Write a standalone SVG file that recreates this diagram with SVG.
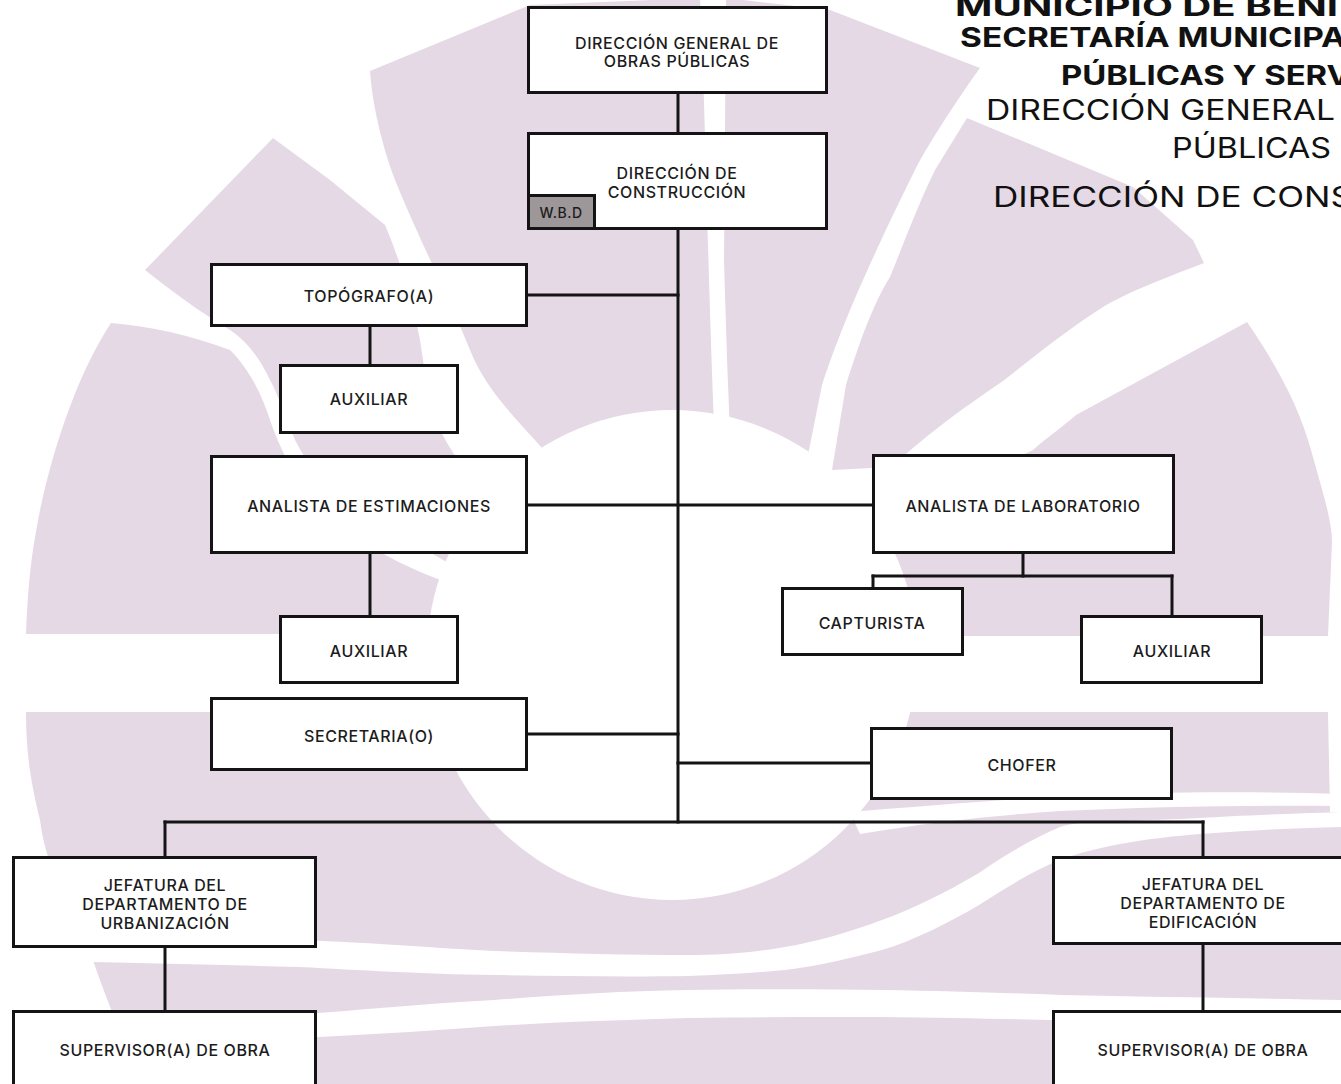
<svg xmlns="http://www.w3.org/2000/svg" width="1341" height="1084" viewBox="0 0 1341 1084">
<style>
.bg{fill:#e6d9e6;stroke:none}
.wh{fill:#ffffff;stroke:none}
.box{fill:#ffffff;stroke:#141414;stroke-width:3}
.lbl{font-family:Inter,"Liberation Sans",sans-serif;font-size:16px;font-weight:500;letter-spacing:0.6px;fill:#1c1c1c;text-anchor:middle}
.conn line{stroke:#141414;stroke-width:3;stroke-linecap:square}
.hb{font-family:Inter,"Liberation Sans",sans-serif;font-weight:700;font-size:27px;fill:#111}
.hr{font-family:Inter,"Liberation Sans",sans-serif;font-weight:400;font-size:28px;fill:#111}
</style>
<rect width="1341" height="1084" fill="#ffffff"/>
<g id="background">
  <path class="bg" d="M370,71 L530,5 L700,-2 C706,120 708,300 716,470 L560,470 C530,430 490,400 470,350 C450,300 415,230 395,180 C380,140 372,100 370,71 Z"/>
  <path class="bg" d="M726,-2 L830,10 L980,68 C950,110 925,150 915,170 C890,220 872,260 863,280 C845,320 830,360 822,385 L805,470 L732,470 C728,400 726,330 724,260 Z"/>
  <path class="bg" d="M967,118 L1133,187 L1193,240 L1204,263 C1160,280 1120,295 1097,311 C1060,335 1030,360 1003,381 C960,410 920,440 892,467 L832,470 L846,385 C860,340 875,300 890,277 C905,240 920,200 935,170 Z"/>
  <path class="bg" d="M1247,322 C1280,370 1300,410 1311,450 C1322,490 1332,520 1332,542 L1328,636 L880,636 L880,560 C940,510 990,470 1033,450 C1050,435 1065,425 1076,415 Z"/>
  <path class="bg" d="M273,138 L330,180 L385,225 C400,260 412,300 420,340 C426,380 430,410 440,430 C460,470 490,500 520,520 L460,570 C410,540 370,520 345,500 C320,480 305,460 295,440 C285,415 278,395 270,380 C258,355 245,340 230,330 C200,312 170,290 145,270 Z"/>
  <path class="bg" d="M111,323 C150,326 190,335 230,350 C250,370 262,395 270,420 C280,450 300,490 330,520 C370,550 420,575 470,590 L470,634 L26,634 C28,590 30,560 40,510 C55,440 80,370 111,323 Z"/>
  <path class="bg" d="M26,712 L1328,712 L1330,812 L1341,812 L1341,1084 L141,1084 C120,1030 100,985 90,950 C60,890 45,860 40,820 C30,780 26,750 26,712 Z"/>
  <path class="wh" d="M850,812 C920,806 1000,800 1060,796 C1150,792 1250,791 1341,794 L1341,806 C1250,805 1150,807 1060,811 C1000,815 930,822 860,834 Z"/>
  <path class="wh" d="M1341,812 C1280,814 1230,816 1200,818 C1120,822 1080,820 1060,827 C1030,840 1000,858 979,873 C945,893 910,910 882,920 C850,932 815,942 785,947 C750,953 720,955 688,955 C620,955 560,953 494,951 C420,947 360,942 300,940 C200,938 100,936 0,935 L0,960 C100,962 200,964 300,967 C360,970 420,974 494,975 C560,976 620,977 688,976 C720,975 750,973 785,970 C820,966 850,958 882,950 C915,940 950,922 979,905 C1010,885 1035,870 1060,860 C1100,845 1150,838 1200,834 C1250,830 1300,828 1341,827 Z"/>
  <path class="wh" d="M0,1020 C120,1018 220,1016 319,1013 C380,1008 440,1003 494,1000 C560,995 620,991 688,990 C760,989 820,989 882,990 C950,991 1010,993 1060,995 C1150,997 1250,998 1341,1000 L1341,1025 C1250,1023 1150,1021 1060,1020 C1010,1019 950,1018 882,1017 C820,1017 760,1017 688,1018 C620,1020 560,1022 494,1026 C440,1030 380,1034 319,1037 C220,1041 120,1043 0,1045 Z"/>
  <circle class="wh" cx="672" cy="655" r="245"/>
</g>
<g id="connectors" class="conn">
  <line x1="678" y1="94" x2="678" y2="132"/>
  <line x1="678" y1="230" x2="678" y2="822"/>
  <line x1="528" y1="295" x2="678" y2="295"/>
  <line x1="370" y1="327" x2="370" y2="364"/>
  <line x1="528" y1="505" x2="872" y2="505"/>
  <line x1="370" y1="554" x2="370" y2="615"/>
  <line x1="528" y1="734" x2="678" y2="734"/>
  <line x1="678" y1="763" x2="870" y2="763"/>
  <line x1="1023" y1="554" x2="1023" y2="576"/>
  <line x1="873" y1="576" x2="1172" y2="576"/>
  <line x1="873" y1="576" x2="873" y2="587"/>
  <line x1="1172" y1="576" x2="1172" y2="615"/>
  <line x1="165" y1="822" x2="1203" y2="822"/>
  <line x1="165" y1="822" x2="165" y2="856"/>
  <line x1="1203" y1="822" x2="1203" y2="856"/>
  <line x1="165" y1="948" x2="165" y2="1010"/>
  <line x1="1203" y1="945" x2="1203" y2="1010"/>
</g>
<g id="n-dgo"><rect class="box" x="528.5" y="7.5" width="298" height="85"/><text class="lbl" x="677" y="49">DIRECCIÓN GENERAL DE</text><text class="lbl" x="677" y="67">OBRAS PÚBLICAS</text></g>
<g id="n-dc"><rect class="box" x="528.5" y="133.5" width="298" height="95"/><text class="lbl" x="677" y="179">DIRECCIÓN DE</text><text class="lbl" x="677" y="198">CONSTRUCCIÓN</text></g>
<g id="n-wbd"><rect x="528.5" y="195.5" width="66" height="33" fill="#9d9799" stroke="#141414" stroke-width="3"/><text class="lbl" x="561" y="218" style="font-size:14px;letter-spacing:0.5px">W.B.D</text></g>
<g id="n-topo"><rect class="box" x="211.5" y="264.5" width="315" height="61"/><text class="lbl" x="369" y="302">TOPÓGRAFO(A)</text></g>
<g id="n-aux1"><rect class="box" x="280.5" y="365.5" width="177" height="67"/><text class="lbl" x="369" y="405">AUXILIAR</text></g>
<g id="n-aest"><rect class="box" x="211.5" y="456.5" width="315" height="96"/><text class="lbl" x="369" y="511.5">ANALISTA DE ESTIMACIONES</text></g>
<g id="n-aux2"><rect class="box" x="280.5" y="616.5" width="177" height="66"/><text class="lbl" x="369" y="656.5">AUXILIAR</text></g>
<g id="n-secr"><rect class="box" x="211.5" y="698.5" width="315" height="71"/><text class="lbl" x="369" y="741.5">SECRETARIA(O)</text></g>
<g id="n-alab"><rect class="box" x="873.5" y="455.5" width="300" height="97"/><text class="lbl" x="1023" y="511.5">ANALISTA DE LABORATORIO</text></g>
<g id="n-capt"><rect class="box" x="782.5" y="588.5" width="180" height="66"/><text class="lbl" x="872" y="628.5">CAPTURISTA</text></g>
<g id="n-aux3"><rect class="box" x="1081.5" y="616.5" width="180" height="66"/><text class="lbl" x="1172" y="656.5">AUXILIAR</text></g>
<g id="n-chof"><rect class="box" x="871.5" y="728.5" width="300" height="70"/><text class="lbl" x="1022" y="770.5">CHOFER</text></g>
<g id="n-jurb"><rect class="box" x="13.5" y="857.5" width="302" height="89"/><text class="lbl" x="165" y="890.5">JEFATURA DEL</text><text class="lbl" x="165" y="909.5">DEPARTAMENTO DE</text><text class="lbl" x="165" y="928.5">URBANIZACIÓN</text></g>
<g id="n-jedi"><rect class="box" x="1053.5" y="857.5" width="300" height="86"/><text class="lbl" x="1203" y="889.5">JEFATURA DEL</text><text class="lbl" x="1203" y="908.5">DEPARTAMENTO DE</text><text class="lbl" x="1203" y="927.5">EDIFICACIÓN</text></g>
<g id="n-supl"><rect class="box" x="13.5" y="1011.5" width="302" height="80"/><text class="lbl" x="165" y="1055.5">SUPERVISOR(A) DE OBRA</text></g>
<g id="n-supr"><rect class="box" x="1053.5" y="1011.5" width="300" height="80"/><text class="lbl" x="1203" y="1055.5">SUPERVISOR(A) DE OBRA</text></g>
<g id="header">
  <text class="hb" x="955" y="16" textLength="383" lengthAdjust="spacingAndGlyphs">MUNICIPIO DE BENI</text>
  <text class="hb" x="960" y="47" textLength="386" lengthAdjust="spacingAndGlyphs">SECRETARÍA MUNICIPA</text>
  <text class="hb" x="1061" y="85" textLength="290" lengthAdjust="spacingAndGlyphs">PÚBLICAS Y SERV</text>
  <text class="hr" x="986" y="120" textLength="349" lengthAdjust="spacingAndGlyphs">DIRECCIÓN GENERAL</text>
  <text class="hr" x="1172" y="158" textLength="159" lengthAdjust="spacingAndGlyphs">PÚBLICAS</text>
  <text class="hr" x="993" y="207" textLength="360" lengthAdjust="spacingAndGlyphs">DIRECCIÓN DE CONS</text>
</g>
</svg>
